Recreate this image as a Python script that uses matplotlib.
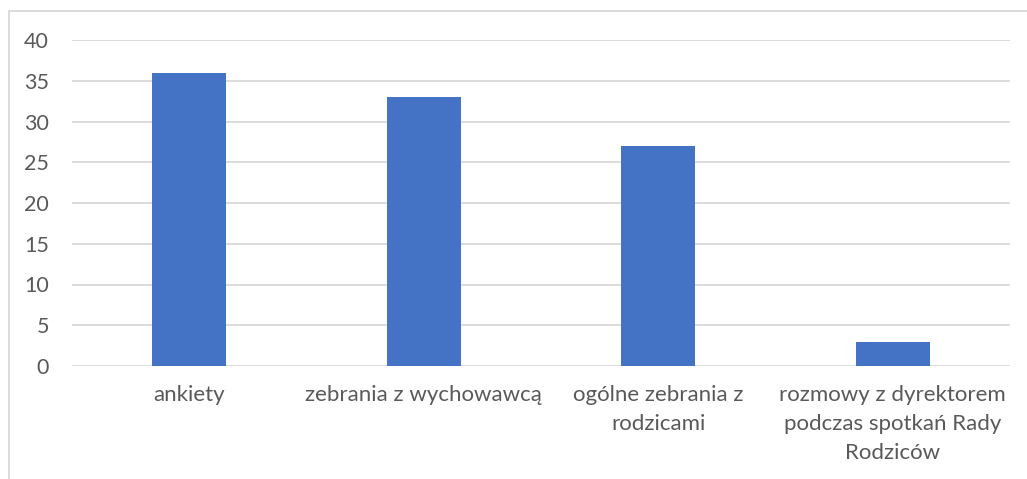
import matplotlib.pyplot as plt
from matplotlib.lines import Line2D

categories = ["ankiety", "zebrania z wychowawcą", "ogólne zebrania z\nrodzicami",
              "rozmowy z dyrektorem\npodczas spotkań Rady\nRodziców"]
values = [36, 33, 27, 3]
yticks = [0, 5, 10, 15, 20, 25, 30, 35, 40]

plt.rcParams['font.family'] = ['Lato', 'DejaVu Sans']
W, H = 1027, 479
fig = plt.figure(figsize=(W / 100, H / 100), dpi=100)
ax = fig.add_axes([72 / W, 1 - 366 / H, (1010 - 72) / W, (366 - 40) / H])

x = range(len(categories))
ax.bar(x, values, width=0.315, color="#4472C4", zorder=3)
ax.set_xlim(-0.5, len(categories) - 0.5)
ax.set_ylim(0, 40)
ax.set_yticks(yticks)
ax.set_xticks(list(x))
ax.set_xticklabels(categories, fontsize=16, color="#595959", linespacing=1.55)
ax.tick_params(axis="y", labelsize=15.5, labelcolor="#595959", length=0, pad=16.5)
ax.tick_params(axis="x", length=0, pad=14)
ax.grid(axis="y", color="#D9D9D9", linewidth=1.3, zorder=0)
for s in ax.spines.values():
    s.set_visible(False)

# chart frame (cut off on right and bottom)
fig.add_artist(Line2D([8.5 / W, 8.5 / W], [0, 1 - 10.5 / H], transform=fig.transFigure,
                      color="#D9D9D9", linewidth=1.3))
fig.add_artist(Line2D([8.5 / W, 1], [1 - 10.5 / H, 1 - 10.5 / H], transform=fig.transFigure,
                      color="#D9D9D9", linewidth=1.3))

fig.savefig("out.png", dpi=100)
